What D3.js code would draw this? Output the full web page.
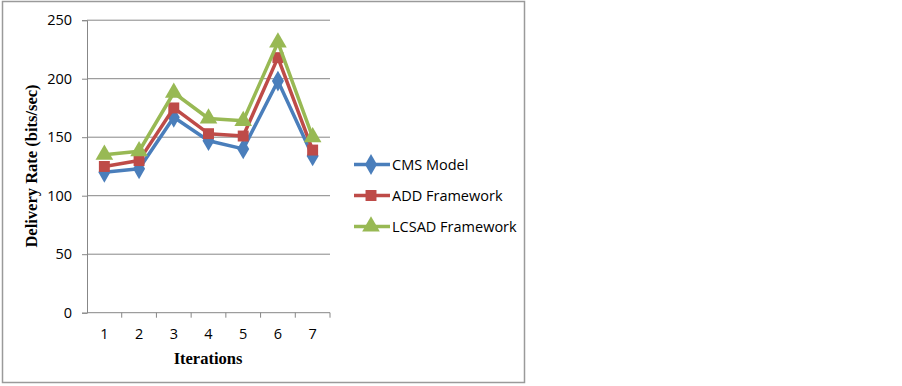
<!DOCTYPE html>
<html>
<head>
<meta charset="utf-8">
<script src="https://cdn.jsdelivr.net/npm/d3@7"></script>
<style>
  body { margin: 0; background: #fff; }
  svg { display: block; }
</style>
</head>
<body>
<svg id="chart" width="902" height="386"></svg>
<script>
// values
const iterations = [1, 2, 3, 4, 5, 6, 7];
const cmsModel = [120, 123, 167, 147, 140, 198, 134];
const addFramework = [125, 130, 175, 153, 151, 218, 139];
const lcsadFramework = [135, 138, 188, 166, 164, 231, 150];
const yTicks = [0, 50, 100, 150, 200, 250];

const seriesNames = ["CMS Model", "ADD Framework", "LCSAD Framework"];
const seriesColors = ["#4A7EBB", "#BE4B48", "#98B954"];
const seriesShapes = [d3.symbolDiamond, d3.symbolSquare, d3.symbolTriangle];
const seriesSizes = [125, 120, 135];

const series = [cmsModel, addFramework, lcsadFramework].map((vals, i) => ({
    name: seriesNames[i],
    color: seriesColors[i],
    shape: seriesShapes[i],
    size: seriesSizes[i],
    values: vals.map((v, j) => ({ x: iterations[j], y: v })),
}));

const svg = d3.select("#chart");
const tickFont = "'Open Sans', 'Liberation Sans', sans-serif";
const titleFont = "'Liberation Serif', 'DejaVu Serif', serif";

// outer frame
svg.append("rect")
    .attr("x", 2.5).attr("y", 1.5)
    .attr("width", 522).attr("height", 381)
    .attr("fill", "none")
    .attr("stroke", "#9a9a9a")
    .attr("stroke-width", 1.5);

const plotLeft = 87, plotRight = 330, plotTop = 20.2, plotBottom = 312.7;

const x = d3.scaleBand().domain(iterations).range([plotLeft, plotRight]);
const y = d3.scaleLinear().domain([0, 250]).range([plotBottom, plotTop]);

// gridlines
svg.append("g")
    .selectAll("line")
    .data(yTicks.filter((t) => t > 0))
    .enter()
    .append("line")
    .attr("x1", plotLeft).attr("x2", plotRight)
    .attr("y1", (d) => y(d)).attr("y2", (d) => y(d))
    .attr("stroke", "#878787")
    .attr("stroke-width", 1);

// y axis
const yAxis = svg.append("g")
    .attr("transform", `translate(${plotLeft},0)`)
    .call(d3.axisLeft(y).tickValues(yTicks).tickSize(5).tickPadding(10));
yAxis.select(".domain").attr("stroke", "#878787");
yAxis.selectAll(".tick line").attr("stroke", "#878787");
yAxis.selectAll("text")
    .attr("font-family", tickFont)
    .attr("font-size", 14.5)
    .attr("fill", "#000");

// x axis, ticks sit on band edges
const xAxis = svg.append("g")
    .attr("transform", `translate(0,${plotBottom})`);
xAxis.append("line")
    .attr("x1", plotLeft).attr("x2", plotRight)
    .attr("stroke", "#878787");
xAxis.selectAll(".edge")
    .data(iterations)
    .enter()
    .append("line")
    .attr("x1", (d) => x(d) + x.bandwidth())
    .attr("x2", (d) => x(d) + x.bandwidth())
    .attr("y1", 0).attr("y2", 5)
    .attr("stroke", "#878787");
xAxis.selectAll("text")
    .data(iterations)
    .enter()
    .append("text")
    .attr("x", (d) => x(d) + x.bandwidth() / 2)
    .attr("y", 26.5)
    .attr("text-anchor", "middle")
    .attr("font-family", tickFont)
    .attr("font-size", 14.5)
    .text((d) => d);

// axis titles
svg.append("text")
    .attr("transform", "translate(37,166) rotate(-90)")
    .attr("text-anchor", "middle")
    .attr("font-family", titleFont)
    .attr("font-weight", "bold")
    .attr("font-size", 16.5)
    .text("Delivery Rate (bits/sec)");

svg.append("text")
    .attr("x", 208)
    .attr("y", 364)
    .attr("text-anchor", "middle")
    .attr("font-family", titleFont)
    .attr("font-weight", "bold")
    .attr("font-size", 16.5)
    .text("Iterations");

// lines + markers
const line = d3.line()
    .x((d) => x(d.x) + x.bandwidth() / 2)
    .y((d) => y(d.y));

const groups = svg.selectAll(".series")
    .data(series)
    .enter()
    .append("g")
    .attr("class", "series");

groups.append("path")
    .attr("d", (s) => line(s.values))
    .attr("fill", "none")
    .attr("stroke", (s) => s.color)
    .attr("stroke-width", 3.5)
    .attr("stroke-linejoin", "round");

groups.each(function (s) {
    d3.select(this)
        .selectAll("path.mark")
        .data(s.values)
        .enter()
        .append("path")
        .attr("class", "mark")
        .attr("d", d3.symbol().type(s.shape).size(s.size))
        .attr("transform", (d) => `translate(${x(d.x) + x.bandwidth() / 2},${y(d.y)})`)
        .attr("fill", s.color);
});

// legend
const legend = svg.selectAll(".legend")
    .data(series)
    .enter()
    .append("g")
    .attr("class", "legend")
    .attr("transform", (d, i) => `translate(354,${164.5 + i * 31})`);

legend.append("line")
    .attr("x1", 0).attr("x2", 36)
    .attr("stroke", (d) => d.color)
    .attr("stroke-width", 3.5);

legend.append("path")
    .attr("d", (d) => d3.symbol().type(d.shape).size(d.size)())
    .attr("transform", "translate(17,0)")
    .attr("fill", (d) => d.color);

legend.append("text")
    .attr("x", 38)
    .attr("y", 5)
    .attr("font-family", tickFont)
    .attr("font-size", 14.5)
    .text((d) => d.name);
</script>
</body>
</html>
